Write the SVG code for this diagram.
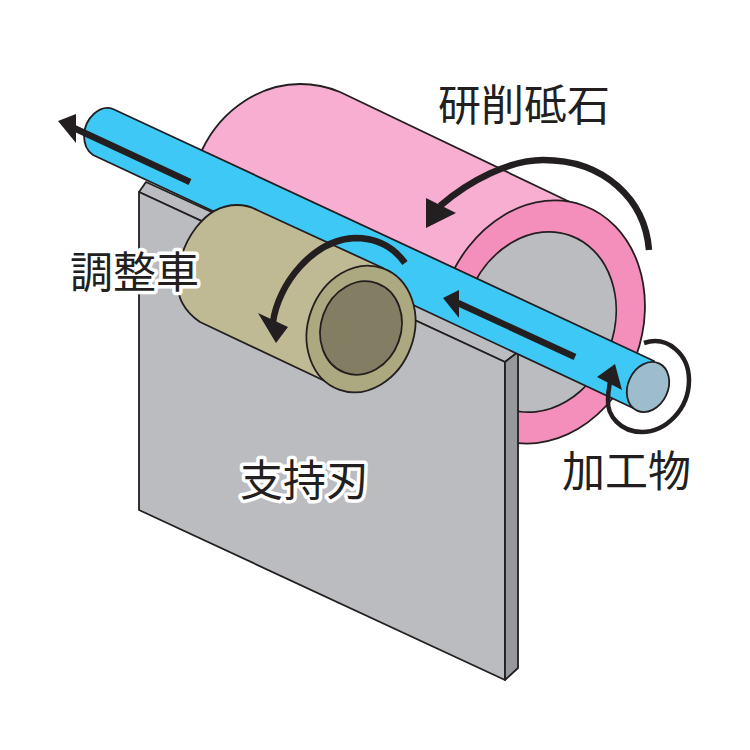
<svg xmlns="http://www.w3.org/2000/svg" width="750" height="750" viewBox="0 0 750 750">
<style>
.o{stroke:#231f20;stroke-width:1.8;stroke-linejoin:round}
.a{fill:none;stroke:#231f20;stroke-width:6.5}
.h{fill:#231f20}
text{font-family:"Noto Sans CJK JP","Noto Sans CJK SC",sans-serif;font-size:43px;fill:#231f20;font-weight:400}
.halo{paint-order:stroke;stroke:#fff;stroke-width:7px;stroke-linejoin:round}
</style>
<rect width="750" height="750" fill="#fff"/>
<g id="grinding-wheel">
<path class="o" fill="#f8aed0" d="M202,150 C222,108 262,84 300,84 C315,84 328,87 340,92 L572,203 L560,300 L480,320 L202,190 Z"/>
<ellipse class="o" fill="#f48fbb" cx="541" cy="322" rx="101" ry="124" transform="rotate(20 541 322)"/>
<ellipse class="o" fill="#bbbcc0" cx="539" cy="322" rx="75" ry="92" transform="rotate(20 539 322)"/>
</g>
<g id="support-blade">
<path class="o" fill="#bbbcc0" d="M139,192 L146,182 L518,352 L505,362 Z"/>
<path class="o" fill="#bbbcc0" d="M139,192 L505,362 L505,680 L139,510 Z"/>
<path class="o" fill="#97989c" d="M505,362 L518,352 L518,668 L505,680 Z"/>
</g>
<g id="workpiece">
<path class="o" fill="#3ec8f6" d="M113,109 L654,361 L633,408 L93,155 C87,151 84,143 84,135 C85,118 100,104 113,109 Z"/>
<ellipse class="o" fill="#9dbccc" cx="648" cy="387" rx="20" ry="26" transform="rotate(25 648 387)"/>
</g>
<g id="regulating-wheel">
<path class="o" fill="#bfba94" d="M257,210 L383,268 L370,360 L327,382 L200,322 C185,312 177,297 177,280 C180,240 205,205 237,205 C245,205 250,206 257,210 Z"/>
<ellipse class="o" fill="#aca87f" cx="361" cy="329" rx="53" ry="64.500" transform="rotate(20 361 329)"/>
<ellipse class="o" fill="#837e63" cx="361" cy="328" rx="40" ry="47.500" transform="rotate(20 361 328)"/>
</g>
<g id="connectors">
<path class="a" d="M190,182 L74,128"/>
<polygon class="h" points="58,121 76,114 76,143"/>
<path class="a" d="M575,357 L458,303"/>
<polygon class="h" points="443,298 459,290 459,318"/>
<path class="a" d="M649,250 C645,200 605,160 543,160 C510,160 470,180 440,206"/>
<polygon class="h" points="426,198 426,228 456,213"/>
<path class="a" d="M405,263 C392,245 375,238 355,238 C312,240 278,285 273,322"/>
<polygon class="h" points="258,313 288,327 276,343"/>
<path fill="none" stroke="#231f20" stroke-width="4.500" d="M644,343 C668,335 689,355 689,380 C689,410 665,432 642,432 C620,432 607,415 608,400 C608,392 609,388 610,382"/>
<polygon class="h" points="597,377 615,364 622,390"/>
</g>
<g id="labels">
<text x="438" y="121">研削砥石</text>
<text class="halo" x="70" y="288">調整車</text>
<text class="halo" x="240" y="496">支持刃</text>
<text x="562" y="487">加工物</text>
</g>
</svg>
